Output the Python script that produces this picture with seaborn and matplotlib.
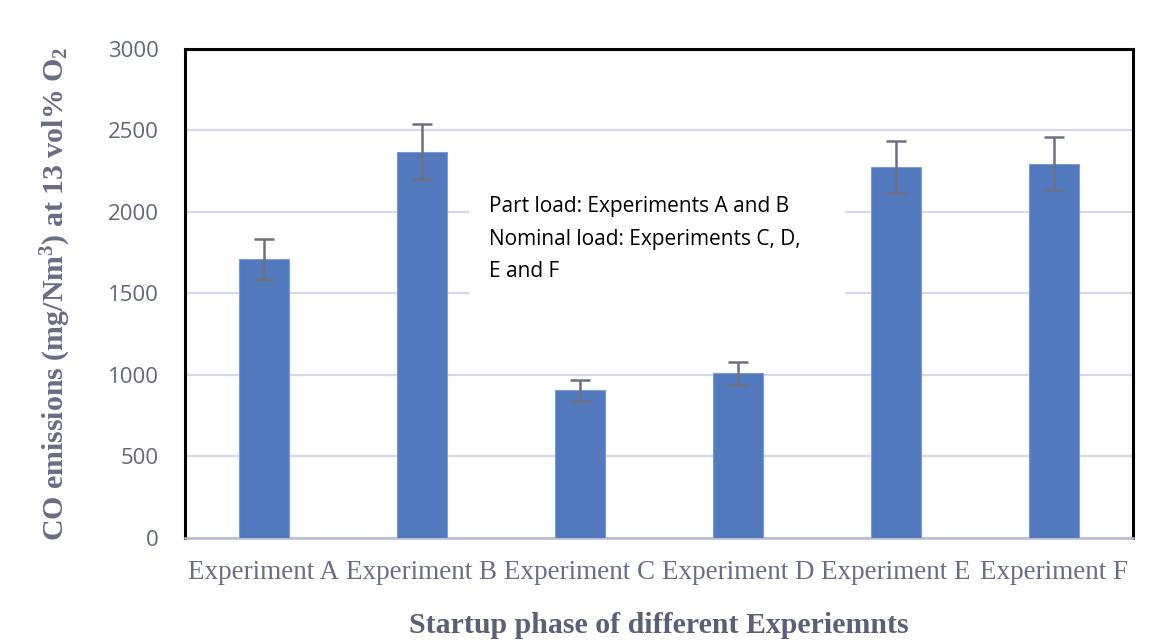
import matplotlib
matplotlib.use("Agg")
import matplotlib.pyplot as plt
import matplotlib.patches as mpatches
import seaborn as sns
import pandas as pd

# CO emissions during the startup phase of each experiment
experiments = ["Experiment A", "Experiment B", "Experiment C",
               "Experiment D", "Experiment E", "Experiment F"]
co_mean = [1710, 2370, 905, 1010, 2275, 2295]
co_err = [125, 170, 62, 72, 160, 162]
y_ticks = [0, 500, 1000, 1500, 2000, 2500, 3000]

df = pd.DataFrame({"experiment": experiments, "co": co_mean})

sns.set_theme(style="white")
plt.rcParams["mathtext.default"] = "regular"

fig = plt.figure(figsize=(11.59, 6.41), dpi=100)
ax = fig.add_axes([0.1596, 0.1607, 0.818, 0.763])

bar_color = "#5279BE"
sns.barplot(data=df, x="experiment", y="co", color=bar_color, width=0.32,
            errorbar=None, saturation=1, edgecolor="#7d9bd3", linewidth=0.8,
            ax=ax, zorder=3)
ax.errorbar(range(len(experiments)), co_mean, yerr=co_err, fmt="none",
            ecolor="#6e7082", elinewidth=1.8, capsize=7, capthick=1.8, zorder=4)

ax.set_ylim(0, 3000)
ax.set_xlim(-0.5, len(experiments) - 0.5)
ax.set_yticks(y_ticks)
ax.yaxis.grid(True, color="#d6d8ee", linewidth=1.6, zorder=0)
ax.set_axisbelow(True)
ax.tick_params(axis="both", length=0)
ax.tick_params(axis="y", pad=19)
ax.tick_params(axis="x", pad=16)

label_gray = "#62667c"
for lab in ax.get_yticklabels():
    lab.set_fontfamily("Open Sans")
    lab.set_fontsize(16)
    lab.set_color(label_gray)
for lab in ax.get_xticklabels():
    lab.set_fontfamily("Liberation Serif")
    lab.set_fontsize(19.5)
    lab.set_color("#6a6e84")

for side in ["left", "top", "right"]:
    ax.spines[side].set_color("black")
    ax.spines[side].set_linewidth(2.2)
ax.spines["bottom"].set_color("#b8bccf")
ax.spines["bottom"].set_linewidth(1.8)

ax.set_xlabel("Startup phase of different Experiemnts", fontfamily="Liberation Serif",
              fontweight="bold", fontsize=21.5, color="#5c6076", labelpad=19)
ax.set_ylabel("CO emissions (mg/Nm$^3$) at 13 vol% O$_2$", fontfamily="Liberation Serif",
              fontweight="bold", fontsize=21.5, color="#686c84", labelpad=25)

# white panel carrying the load description
ax.add_patch(mpatches.Rectangle((0.30, 0.487), 0.396, 0.255, transform=ax.transAxes,
                                facecolor="white", edgecolor="none", zorder=1))
ax.text(0.321, 0.699,
        "Part load: Experiments A and B\nNominal load: Experiments C, D,\nE and F",
        transform=ax.transAxes, ha="left", va="top", fontfamily="Open Sans",
        fontsize=15, color="black", linespacing=1.72, zorder=5)

fig.savefig("out.png", dpi=100, facecolor="white")
